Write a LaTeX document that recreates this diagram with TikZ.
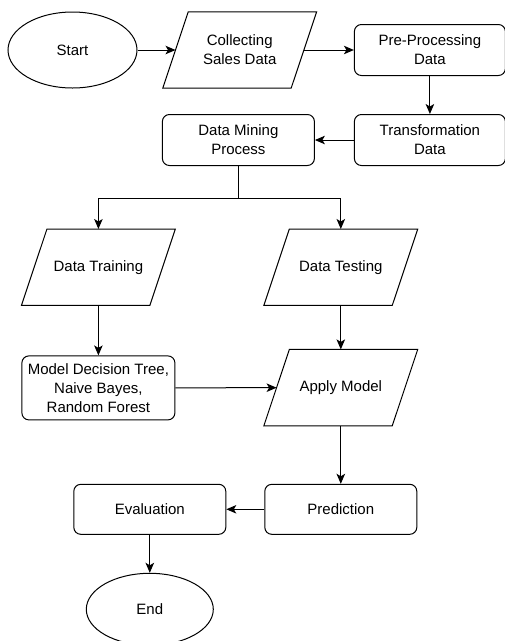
\documentclass[tikz,border=0pt]{standalone}
\usepackage{fontspec}
\setmainfont{Liberation Sans}
\usetikzlibrary{arrows.meta, positioning, shapes.geometric}

\begin{document}
\begin{tikzpicture}[
    node distance=38pt,
    every node/.style={font=\fontsize{15pt}{19pt}\selectfont, align=center},
    terminal/.style={ellipse, draw, line width=1pt, minimum width=129pt, minimum height=76pt, inner sep=0pt},
    iobox/.style={rectangle, minimum width=128pt, minimum height=76pt, inner sep=0pt,
        append after command={\pgfextra{\draw[line width=1pt]
            ([xshift=12.75pt]\tikzlastnode.north west) -- ([xshift=12.75pt]\tikzlastnode.north east)
            -- ([xshift=-12.75pt]\tikzlastnode.south east) -- ([xshift=-12.75pt]\tikzlastnode.south west) -- cycle;}}},
    procbox/.style={rectangle, draw, line width=1pt, rounded corners=7pt, minimum width=152pt, minimum height=51pt, inner sep=0pt},
    arrow/.style={-{Stealth[length=10pt, width=8.5pt, inset=2.5pt]}, line width=1pt}
]
\useasboundingbox (0,0) rectangle (505pt,-641pt);

\node[terminal] (start) at (72.5pt,-50pt) {Start};
\node[iobox, right=38pt of start] (collect) {Collecting\\Sales Data};
\node[procbox, right=50pt of collect, minimum width=151pt] (preproc) {Pre-Processing\\Data};
\node[procbox, below=38pt of preproc, minimum width=151pt] (transform) {Transformation\\Data};
\node[procbox, left=39pt of transform] (mining) {Data Mining\\Process};
\coordinate[below=32pt of mining] (split);
\node[iobox, below=63pt of mining, xshift=-140pt] (training) {Data Training};
\node[iobox, right=114pt of training] (testing) {Data Testing};
\node[procbox, below=50pt of training, minimum width=153pt, minimum height=64pt] (model) {Model Decision Tree,\\Naive Bayes,\\Random Forest};
\node[iobox, below=44pt of testing] (apply) {Apply Model};
\node[procbox, below=58pt of apply, minimum height=50pt] (predict) {Prediction};
\node[procbox, left=38pt of predict, minimum height=50pt] (eval) {Evaluation};
\node[terminal, below=38pt of eval, minimum width=127pt, minimum height=72pt] (finish) {End};

\draw[arrow] (start) -- (collect);
\draw[arrow] (collect) -- (preproc);
\draw[arrow] (preproc) -- (transform);
\draw[arrow] (transform) -- (mining);
\draw[line width=1pt] (mining) -- (split);
\draw[arrow] (split) -| (training);
\draw[arrow] (split) -| (testing);
\draw[arrow] (training) -- (model);
\draw[arrow] (testing) -- (apply);
\draw[arrow] (model) -- (apply);
\draw[arrow] (apply) -- (predict);
\draw[arrow] (predict) -- (eval);
\draw[arrow] (eval) -- (finish);
\end{tikzpicture}
\end{document}
